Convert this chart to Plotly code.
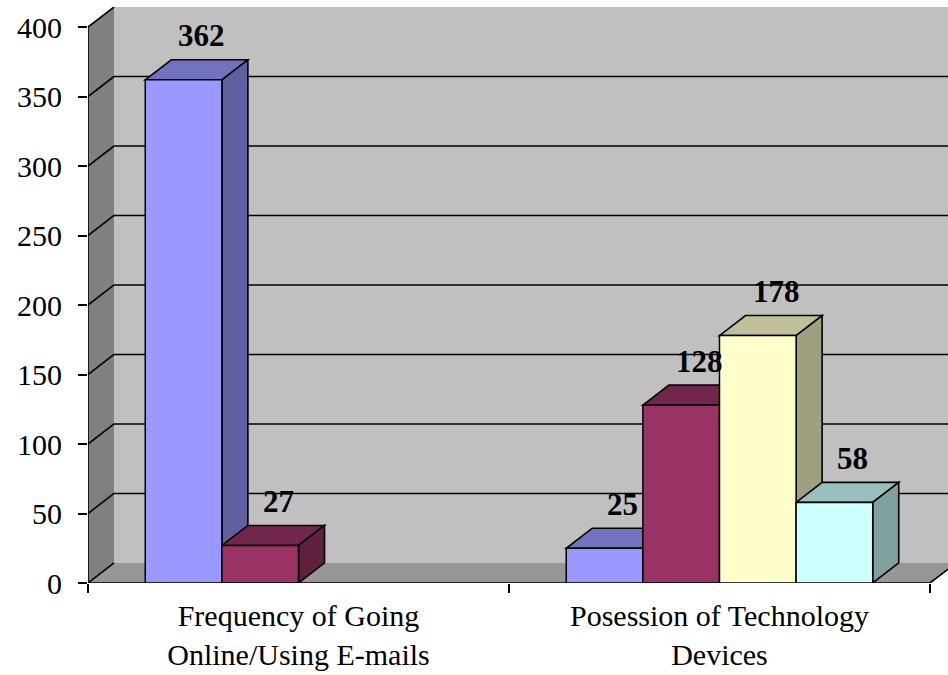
import plotly.graph_objects as go

# ---- data -------------------------------------------------------------
categories = [
    "Frequency of Going<br>Online/Using E-mails",
    "Posession of Technology<br>Devices",
]
series_1 = [362, 25]
series_2 = [27, 128]
series_3 = [None, 178]
series_4 = [None, 58]
y_ticks = [0, 50, 100, 150, 200, 250, 300, 350, 400]

all_series = [series_1, series_2, series_3, series_4]
front_colors = ["#9999FF", "#993366", "#FFFFCC", "#CCFFFF"]

# ---- 3-D look settings -------------------------------------------------
FONT = "Liberation Serif, Times New Roman, serif"
BAR_W = 0.182          # bar width in category units
DDX = 0.0618           # depth offset, x (category units)
DDY = 14.4             # depth offset, y (value units)
Y_TOP = 400
Y_RANGE = [0, 414.4]
X_RANGE = [-0.5, 1.5428]
LINE = dict(color="black", width=1.6)


def shade(hex_color, f):
    h = hex_color.lstrip("#")
    r, g, b = (int(h[i:i + 2], 16) for i in (0, 2, 4))
    return "rgb({},{},{})".format(int(r * f), int(g * f), int(b * f))


def poly(points):
    return "M " + " L ".join("{},{}".format(x, y) for x, y in points) + " Z"


shapes = []
x0, x1 = -0.5, 1.5

# back wall
shapes.append(dict(type="rect", x0=x0 + DDX, x1=x1 + DDX, y0=DDY, y1=Y_TOP + DDY,
                   fillcolor="#C0C0C0", line=dict(width=0), layer="below"))
# left side wall
shapes.append(dict(type="path", path=poly([(x0, 0), (x0, Y_TOP), (x0 + DDX, Y_TOP + DDY), (x0 + DDX, DDY)]),
                   fillcolor="#808080", line=dict(width=0), layer="below"))
# floor
shapes.append(dict(type="path", path=poly([(x0, 0), (x1, 0), (x1 + DDX, DDY), (x0 + DDX, DDY)]),
                   fillcolor="#969696", line=dict(width=0), layer="below"))

# gridlines: back wall horizontals and side wall diagonals
for v in y_ticks:
    if 0 < v < Y_TOP:
        shapes.append(dict(type="line", x0=x0 + DDX, x1=x1 + DDX, y0=v + DDY, y1=v + DDY,
                           line=LINE, layer="below"))
    shapes.append(dict(type="line", x0=x0, x1=x0 + DDX, y0=v, y1=v + DDY, line=LINE, layer="below"))

# front axis edges
shapes.append(dict(type="line", x0=x0, x1=x0, y0=0, y1=Y_TOP, line=LINE, layer="below"))
shapes.append(dict(type="line", x0=x0, x1=x1, y0=0, y1=0, line=LINE, layer="below"))
shapes.append(dict(type="line", x0=x1, x1=x1 + DDX, y0=0, y1=DDY, line=LINE, layer="below"))

fig = go.Figure()
annotations = []

n = len(all_series)
for k, (vals, col) in enumerate(zip(all_series, front_colors)):
    offset = -n * BAR_W / 2 + k * BAR_W
    fig.add_trace(go.Bar(
        x=categories, y=vals, width=BAR_W, offset=offset,
        marker=dict(color=col, line=dict(color="black", width=1.5)),
        showlegend=False, hoverinfo="x+y",
    ))
    for ci, v in enumerate(vals):
        if v is None:
            continue
        left = ci + offset
        right = left + BAR_W
        # top face
        shapes.append(dict(type="path",
                           path=poly([(left, v), (right, v), (right + DDX, v + DDY), (left + DDX, v + DDY)]),
                           fillcolor=shade(col, 0.75), line=LINE, layer="below"))
        # right side face
        shapes.append(dict(type="path",
                           path=poly([(right, 0), (right, v), (right + DDX, v + DDY), (right + DDX, DDY)]),
                           fillcolor=shade(col, 0.63), line=LINE, layer="below"))
        annotations.append(dict(
            x=left + BAR_W / 2 + DDX * 0.7, y=v + DDY, yshift=24,
            text="<b>{}</b>".format(v), showarrow=False,
            xanchor="center", yanchor="middle",
            font=dict(family=FONT, size=31, color="black"),
        ))

fig.update_layout(
    width=948, height=675,
    margin=dict(l=88, r=0, t=7, b=92),
    paper_bgcolor="white", plot_bgcolor="white",
    barmode="overlay",
    shapes=shapes,
    annotations=annotations,
    font=dict(family=FONT, color="black"),
    xaxis=dict(
        type="category", categoryorder="array", categoryarray=categories,
        range=X_RANGE, tickson="boundaries", ticks="outside", ticklen=9,
        tickwidth=1.5, tickcolor="black", showgrid=False, zeroline=False,
        showline=False, tickfont=dict(family=FONT, size=30, color="black"),
        ticklabelstandoff=12, fixedrange=True,
    ),
    yaxis=dict(
        range=Y_RANGE, tickvals=y_ticks, ticks="outside", ticklen=9,
        tickwidth=1.5, tickcolor="black", showgrid=False, zeroline=False,
        showline=False, tickfont=dict(family=FONT, size=30, color="black"),
        ticklabelstandoff=10, fixedrange=True,
    ),
)

fig.write_html("out.html")
